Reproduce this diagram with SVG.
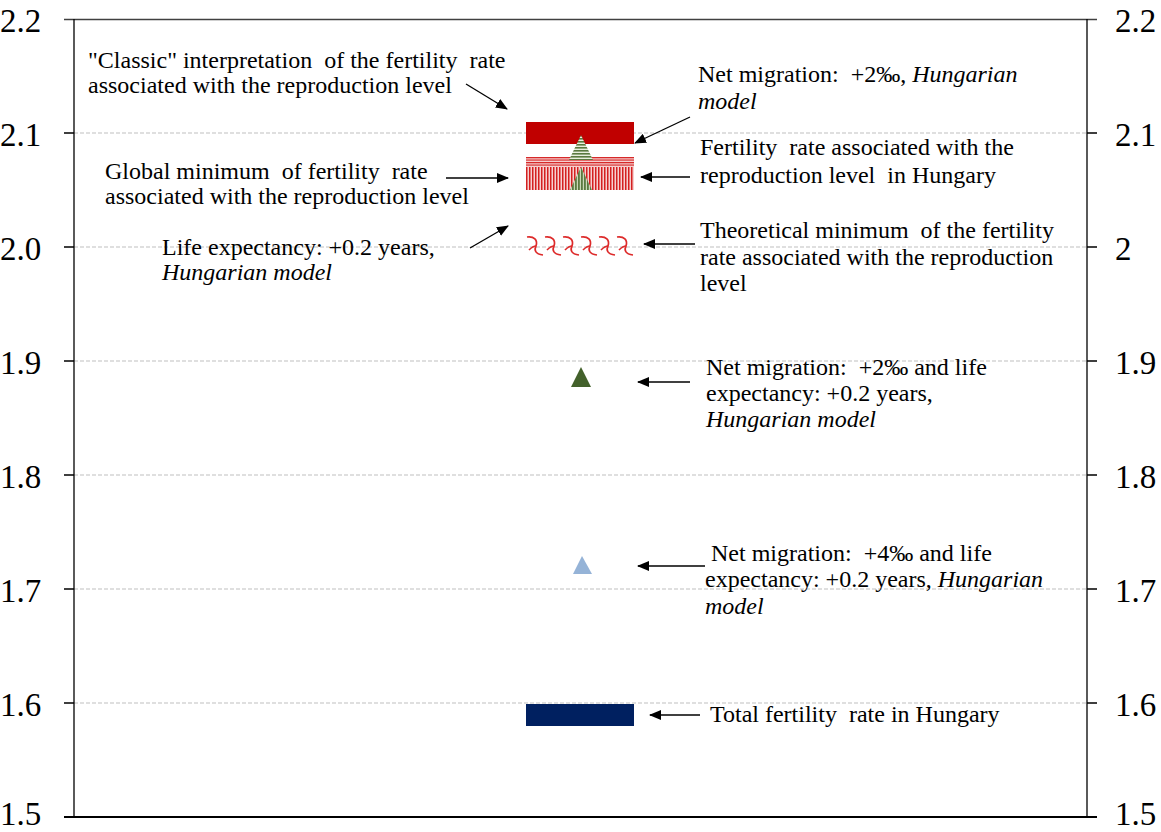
<svg xmlns="http://www.w3.org/2000/svg" width="1161" height="832" viewBox="0 0 1161 832">
<style>
text{font-family:"Times New Roman","Liberation Serif",Tinos,"DejaVu Serif",serif}
.ax{font-size:33px}
.lb{font-size:24px}
.it{font-style:italic}
.grid{stroke:#BFBFBF;stroke-width:1;stroke-dasharray:4,2}
.axis{stroke:#000;stroke-width:1.3;fill:none}
.conn{stroke:#000;stroke-width:1.3;fill:none;marker-end:url(#ah)}
.wv{fill:none;stroke:#DD2A2A;stroke-width:1.7}
</style>
<defs>
<marker id="ah" viewBox="0 0 12 10" refX="11" refY="5" markerWidth="12" markerHeight="10" markerUnits="userSpaceOnUse" orient="auto">
<path d="M0,0 L12,5 L0,10 z" fill="#000"/>
</marker>
<pattern id="hstripe" x="0" y="157" width="4" height="2.5" patternUnits="userSpaceOnUse">
<rect width="4" height="2.5" fill="#F8D8D8"/>
<rect width="4" height="1.2" fill="#D42020"/>
</pattern>
<pattern id="vstripe" x="526" y="0" width="3" height="4" patternUnits="userSpaceOnUse">
<rect width="3" height="4" fill="#F6D0D0"/>
<rect width="1.5" height="4" fill="#D42020"/>
</pattern>
<pattern id="ghstripe" x="0" y="135" width="4" height="3" patternUnits="userSpaceOnUse">
<rect width="4" height="3" fill="#E8EEDD"/>
<rect width="4" height="1.6" fill="#5A7A40"/>
</pattern>
<pattern id="gvstripe" x="569" y="0" width="3" height="4" patternUnits="userSpaceOnUse">
<rect width="3" height="4" fill="#C9D8B8"/>
<rect width="1.8" height="4" fill="#5A7A40"/>
</pattern>
<pattern id="wave" x="526" y="235" width="18" height="22" patternUnits="userSpaceOnUse">
<path class="wv" d="M1,2 C8,1 12,5 10,11 C8,15 9,19 17,20"/>
<path class="wv" d="M10,11 C7,11 5,13 3,15"/>
</pattern>
</defs>
<g id="grid">
<line class="grid" x1="74" y1="133" x2="1087" y2="133"/>
<line class="grid" x1="74" y1="247" x2="1087" y2="247"/>
<line class="grid" x1="74" y1="361" x2="1087" y2="361"/>
<line class="grid" x1="74" y1="475" x2="1087" y2="475"/>
<line class="grid" x1="74" y1="589" x2="1087" y2="589"/>
<line class="grid" x1="74" y1="703" x2="1087" y2="703"/>
<line x1="64" y1="19.5" x2="1097" y2="19.5" stroke="#404040" stroke-width="1.3"/>
</g>
<g id="axes">
<line class="axis" x1="74" y1="19" x2="74" y2="817"/>
<line class="axis" x1="1087" y1="19" x2="1087" y2="817"/>
<path class="axis" d="M64,133H74M64,247H74M64,361H74M64,475H74M64,589H74M64,703H74M1087,133H1097M1087,247H1097M1087,361H1097M1087,475H1097M1087,589H1097M1087,703H1097"/>
<line x1="64" y1="817" x2="1097" y2="817" stroke="#000" stroke-width="2"/>
<text class="ax" x="0" y="32">2.2</text>
<text class="ax" x="0" y="146">2.1</text>
<text class="ax" x="0" y="260">2.0</text>
<text class="ax" x="0" y="374">1.9</text>
<text class="ax" x="0" y="488">1.8</text>
<text class="ax" x="0" y="602">1.7</text>
<text class="ax" x="0" y="716">1.6</text>
<text class="ax" x="0" y="825">1.5</text>
<text class="ax" x="1115" y="32">2.2</text>
<text class="ax" x="1115" y="146">2.1</text>
<text class="ax" x="1115" y="260">2</text>
<text class="ax" x="1115" y="374">1.9</text>
<text class="ax" x="1115" y="488">1.8</text>
<text class="ax" x="1115" y="602">1.7</text>
<text class="ax" x="1115" y="716">1.6</text>
<text class="ax" x="1115" y="825">1.5</text>
</g>
<g id="markers">
<rect id="classic" x="526" y="122" width="108" height="22" fill="#C00000"/>
<rect id="global-min" x="526" y="157" width="108" height="10" fill="url(#hstripe)"/>
<rect id="hungary" x="526" y="167" width="108" height="23" fill="url(#vstripe)"/>
<polygon id="netmig2" points="581,135 569,160 593,160" fill="url(#ghstripe)"/>
<polygon id="life02" points="581,167 570,190 592,190" fill="url(#gvstripe)"/>
<rect id="theoretical" x="526" y="235" width="108" height="22" fill="url(#wave)"/>
<polygon id="netmig2-life" points="581,367 571,387 591,387" fill="#43612B"/>
<polygon id="netmig4-life" points="582,556 573,574 592,574" fill="#95B3D7"/>
<rect id="tfr" x="526" y="704" width="108" height="22" fill="#002060"/>
</g>
<g id="connectors">
<line class="conn" x1="466" y1="84" x2="507" y2="109"/>
<line class="conn" x1="690" y1="117" x2="635" y2="143"/>
<line class="conn" x1="690" y1="177" x2="641" y2="177"/>
<line class="conn" x1="446" y1="178" x2="508" y2="178"/>
<line class="conn" x1="470" y1="248" x2="508" y2="226"/>
<line class="conn" x1="695" y1="244" x2="644" y2="244"/>
<line class="conn" x1="690" y1="382" x2="638" y2="382"/>
<line class="conn" x1="705" y1="566" x2="638" y2="566"/>
<line class="conn" x1="700" y1="715" x2="650" y2="715"/>
</g>
<g id="label-classic">
<text class="lb" x="88" y="68" xml:space="preserve">"Classic" interpretation  of the fertility  rate</text>
<text class="lb" x="88" y="93">associated with the reproduction level</text>
</g>
<g id="label-global">
<text class="lb" x="105" y="179" xml:space="preserve">Global minimum  of fertility  rate</text>
<text class="lb" x="105" y="204">associated with the reproduction level</text>
</g>
<g id="label-life">
<text class="lb" x="162" y="255">Life expectancy: +0.2 years,</text>
<text class="lb it" x="162" y="280">Hungarian model</text>
</g>
<g id="label-netmig2">
<text class="lb" x="698" y="82" xml:space="preserve">Net migration:  +2‰, <tspan class="it">Hungarian</tspan></text>
<text class="lb it" x="698" y="109">model</text>
</g>
<g id="label-hungary">
<text class="lb" x="700" y="155" xml:space="preserve">Fertility  rate associated with the</text>
<text class="lb" x="700" y="183" xml:space="preserve">reproduction level  in Hungary</text>
</g>
<g id="label-theoretical">
<text class="lb" x="700" y="238" xml:space="preserve">Theoretical minimum  of the fertility</text>
<text class="lb" x="700" y="265">rate associated with the reproduction</text>
<text class="lb" x="700" y="291">level</text>
</g>
<g id="label-netmig2-life">
<text class="lb" x="706" y="375" xml:space="preserve">Net migration:  +2‰ and life</text>
<text class="lb" x="706" y="401">expectancy: +0.2 years,</text>
<text class="lb it" x="706" y="427">Hungarian model</text>
</g>
<g id="label-netmig4-life">
<text class="lb" x="711" y="561" xml:space="preserve">Net migration:  +4‰ and life</text>
<text class="lb" x="705" y="587">expectancy: +0.2 years, <tspan class="it">Hungarian</tspan></text>
<text class="lb it" x="705" y="614">model</text>
</g>
<g id="label-tfr">
<text class="lb" x="710" y="722" xml:space="preserve">Total fertility  rate in Hungary</text>
</g>
</svg>
